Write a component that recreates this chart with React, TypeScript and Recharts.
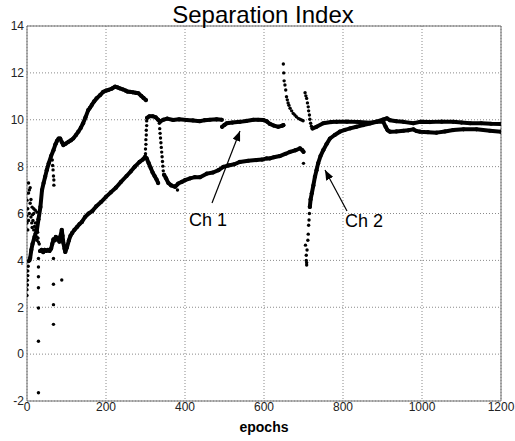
import React from 'react';
import { ScatterChart, Scatter, XAxis, YAxis, CartesianGrid, ReferenceArea } from 'recharts';

type P = [number, number];

const xTicks = [0, 200, 400, 600, 800, 1000, 1200];
const yTicks = [-2, 0, 2, 4, 6, 8, 10, 12, 14];

// Ch 1 — starts low and noisy, jumps to ~10 at epoch 300, spikes near 650/705
const ch1Noise: P[] = [
  [4, 7.3], [8, 7.1], [6, 7.0], [4, 6.87], [10, 6.6], [0, 6.57], [8, 6.44], [13, 6.27], [2, 6.2],
  [17, 6.2], [21, 6.14], [25, 6.06], [17, 6.0], [6, 6.0], [14, 5.95], [0, 5.9], [10, 5.85], [4, 5.7],
  [15, 5.7], [0, 5.6], [21, 5.6], [12, 5.6], [19, 5.45], [13, 5.4], [23, 5.35], [17, 5.3], [2, 5.3],
  [27, 5.2], [21, 5.15], [25, 5.0], [28, 4.95], [25, 4.86], [29, 4.78], [31, 4.7],
];
const ch1Outliers: P[] = [
  [64, 8.28], [65, 8.05], [66, 7.86], [67, 7.6], [68, 7.43], [68, 7.21],
  [29, 4.08], [29, 3.72], [29, 3.3], [29, 2.83], [29, 1.97], [29, 0.55], [29, -1.65],
  [67, 4.08], [67, 2.98], [67, 2.11], [67, 1.27], [88, 3.16],
];
const ch1Low: P[] = [
  [33, 4.4], [37, 4.45], [41, 4.35], [45, 4.45], [49, 4.4], [53, 4.45], [57, 4.4], [61, 4.5],
  [64, 4.7], [67, 4.9], [70, 4.85], [73, 5.0], [76, 4.9], [79, 4.95], [82, 4.8], [85, 5.05],
  [88, 5.3], [90, 5.05], [92, 4.75], [95, 4.5], [97, 4.36], [101, 4.55], [106, 4.85], [110, 5.05],
  [114, 5.16], [120, 5.3], [127, 5.43], [133, 5.55], [139, 5.64], [147, 5.85], [156, 6.0],
  [165, 6.1], [175, 6.3], [188, 6.5], [200, 6.71], [212, 6.9], [225, 7.1], [238, 7.35],
  [252, 7.6], [263, 7.8], [273, 8.0], [285, 8.2], [293, 8.3], [299, 8.42],
];
const ch1Fall: P[] = [
  [303, 8.35], [308, 8.15], [313, 7.95], [318, 7.75], [323, 7.6], [328, 7.45], [332, 7.3],
];
const ch1Jump: P[] = [
  [300, 8.55], [300, 8.75], [301, 8.95], [301, 9.15], [302, 9.35], [302, 9.55], [303, 9.75], [303, 9.95],
];
const ch1Flat1: P[] = [
  [304, 10.08], [310, 10.15], [318, 10.15], [326, 10.1], [332, 10.0], [337, 9.92], [345, 10.0],
  [355, 10.05], [370, 9.99], [385, 10.02], [404, 9.99], [420, 9.97], [438, 9.94], [450, 9.98],
  [463, 10.0], [480, 10.02], [493, 10.0],
];
const ch1Flat2: P[] = [
  [494, 9.7], [500, 9.78], [506, 9.85], [520, 9.88], [539, 9.91], [555, 9.95], [573, 10.0],
  [585, 10.0], [598, 9.99], [607, 9.93], [615, 9.82], [625, 9.75], [636, 9.7], [645, 9.74], [649, 9.77],
];
const ch1Spike: P[] = [
  [649, 12.38], [650, 12.0], [651, 11.66], [653, 11.48], [655, 11.27], [657, 10.98], [659, 10.85],
  [661, 10.72], [663, 10.62], [666, 10.49], [670, 10.38], [674, 10.27], [678, 10.2], [682, 10.13],
  [687, 10.06], [691, 10.02], [695, 9.99], [699, 9.96],
];
const ch1Spike2: P[] = [
  [704, 11.15], [706, 11.02], [708, 10.91], [710, 10.72], [712, 10.55], [713, 10.38], [715, 10.2],
  [716, 10.02], [718, 9.85], [720, 9.72],
];
const ch1Final: P[] = [
  [723, 9.63], [733, 9.7], [750, 9.85], [770, 9.9], [784, 9.91], [810, 9.92], [840, 9.9],
  [868, 9.87], [885, 9.92], [902, 10.01], [911, 10.06], [919, 9.98], [935, 9.94], [953, 9.91],
  [978, 9.85], [995, 9.91], [1020, 9.9], [1050, 9.92], [1079, 9.91], [1100, 9.88], [1122, 9.85],
  [1150, 9.85], [1175, 9.83], [1200, 9.82],
];

// Ch 2 — rises to ~11.4, drops to ~7.5 after 330, dips to 3.8 at ~710 and recovers
const ch2Start: P[] = [
  [0, 2.5], [0, 2.75], [1, 2.95], [1, 3.15], [2, 3.35], [2, 3.55], [3, 3.75], [4, 3.95],
];
const ch2Curve: P[] = [
  [6, 4.0], [8, 4.1], [11, 4.45], [14, 4.7], [19, 5.0], [25, 5.3], [29, 5.75], [34, 6.28],
  [38, 7.0], [42, 7.3], [46, 7.57], [50, 7.85], [55, 8.14], [61, 8.45], [67, 8.7], [72, 8.95],
  [76, 9.1], [80, 9.2], [84, 9.2], [88, 9.05], [92, 8.92], [98, 8.98], [105, 9.06], [111, 9.12],
  [117, 9.2], [124, 9.35], [130, 9.49], [136, 9.65], [142, 9.85], [148, 10.1], [155, 10.41],
  [160, 10.52], [164, 10.63], [170, 10.78], [176, 10.91], [185, 11.05], [193, 11.19], [200, 11.24],
  [206, 11.27], [215, 11.33], [223, 11.41], [229, 11.38], [235, 11.34], [242, 11.3], [250, 11.24],
  [255, 11.2], [261, 11.19], [268, 11.17], [275, 11.15], [282, 11.13], [289, 11.02], [295, 10.93],
  [301, 10.84],
];
const ch2Drop: P[] = [
  [335, 9.85], [336, 9.62], [337, 9.42], [338, 9.22], [339, 9.02], [340, 8.82], [341, 8.62],
  [342, 8.42], [343, 8.22], [344, 8.02], [345, 7.82],
];
const ch2Low: P[] = [
  [347, 7.65], [352, 7.5], [358, 7.3], [365, 7.2], [375, 7.14], [383, 7.28], [392, 7.35],
  [400, 7.42], [413, 7.5], [425, 7.55], [438, 7.55], [455, 7.7], [471, 7.75], [485, 7.85],
  [497, 7.99], [510, 8.05], [525, 8.1], [539, 8.2], [560, 8.25], [581, 8.28], [595, 8.3],
  [607, 8.35], [615, 8.35], [625, 8.4], [640, 8.45], [655, 8.55], [666, 8.63], [680, 8.7],
  [691, 8.78], [697, 8.7], [700, 8.63],
];
const ch2Outliers: P[] = [[381, 7.0], [700, 8.14]];
const ch2DipDots: P[] = [
  [708, 3.8], [708, 3.9], [707, 4.0], [707, 4.22], [709, 4.44], [705, 4.65], [711, 4.86],
  [712, 5.12], [713, 5.5], [714, 5.72], [715, 6.0],
];
const ch2Rise: P[] = [
  [716, 6.28], [718, 6.6], [721, 6.86], [725, 7.2], [729, 7.57], [733, 7.85], [737, 8.14],
  [743, 8.45], [750, 8.7], [758, 8.95], [767, 9.2], [779, 9.35], [792, 9.49], [805, 9.57],
  [818, 9.63], [834, 9.7], [851, 9.77], [868, 9.84], [885, 9.91], [902, 9.91], [908, 9.7],
  [913, 9.55], [919, 9.49], [935, 9.5], [953, 9.53], [965, 9.55], [978, 9.59], [986, 9.52],
  [995, 9.49], [1015, 9.47], [1037, 9.45], [1058, 9.5], [1079, 9.56], [1105, 9.59], [1138, 9.59],
  [1172, 9.53], [1200, 9.49],
];

const dotSeries = [ch1Noise, ch1Outliers, ch1Jump, ch1Spike, ch1Spike2, ch2Start, ch2Drop, ch2Outliers, ch2DipDots];
const lineSeries = [ch1Low, ch1Fall, ch1Flat1, ch1Flat2, ch1Final, ch2Curve, ch2Low, ch2Rise];

const toPts = (arr: P[]) => arr.map(([x, y]) => ({ x, y }));

const FONT = '"Liberation Sans", Arial, Helvetica, sans-serif';

const dot = (r: number) => (p: any) => <circle cx={p.cx} cy={p.cy} r={r} fill="#000" />;

export default function App() {
  return (
    <div style={{ position: 'absolute', left: 0, top: 0, width: 515, height: 441, background: '#fff', fontFamily: FONT }}>
      <ScatterChart width={515} height={441} margin={{ top: 26, right: 14, bottom: 0, left: 5 }}>
        <CartesianGrid strokeDasharray="1 2" stroke="#8a8a8a" />
        <XAxis
          type="number"
          dataKey="x"
          domain={[0, 1200]}
          ticks={xTicks}
          interval={0}
          height={40}
          tickSize={0}
          tickMargin={1}
          axisLine={false}
          tick={{ fontSize: 12, fill: '#222', fontFamily: FONT }}
          allowDataOverflow
        />
        <YAxis
          type="number"
          dataKey="y"
          domain={[-2, 14]}
          ticks={yTicks}
          interval={0}
          width={22}
          tickSize={0}
          tickMargin={3}
          axisLine={false}
          tick={{ fontSize: 12, fill: '#222', fontFamily: FONT }}
          allowDataOverflow
        />
        <ReferenceArea x1={0} x2={1200} y1={-2} y2={14} fill="none" fillOpacity={0} stroke="#6e6e6e" strokeWidth={1} ifOverflow="visible" />
        {lineSeries.map((s, i) => (
          <Scatter
            key={`line-${i}`}
            data={toPts(s)}
            line={{ stroke: '#000', strokeWidth: 4, strokeLinejoin: 'round', strokeLinecap: 'round' }}
            lineType="joint"
            shape={dot(2.1)}
            isAnimationActive={false}
          />
        ))}
        {dotSeries.map((s, i) => (
          <Scatter key={`dot-${i}`} data={toPts(s)} shape={dot(1.7)} isAnimationActive={false} />
        ))}
      </ScatterChart>
      <svg width={515} height={441} style={{ position: 'absolute', left: 0, top: 0, pointerEvents: 'none' }}>
        <defs>
          <marker id="arrowHead" markerWidth={10} markerHeight={8} refX={10} refY={4} orient="auto" markerUnits="userSpaceOnUse">
            <path d="M0,0 L10,4 L0,8 z" fill="#000" />
          </marker>
        </defs>
        <text x={263} y={23} textAnchor="middle" fontSize={24} fontFamily={FONT} fill="#000">Separation Index</text>
        <text x={264} y={432} textAnchor="middle" fontSize={14} fontWeight="bold" fontFamily={FONT} fill="#000">epochs</text>
        <line x1={212} y1={203} x2={240} y2={131} stroke="#000" strokeWidth={1.2} markerEnd="url(#arrowHead)" />
        <text x={189} y={226} fontSize={18} fontFamily={FONT} fill="#000">Ch 1</text>
        <line x1={347} y1={211} x2={325} y2={170} stroke="#000" strokeWidth={1.2} markerEnd="url(#arrowHead)" />
        <text x={345} y={227} fontSize={18} fontFamily={FONT} fill="#000">Ch 2</text>
      </svg>
    </div>
  );
}
